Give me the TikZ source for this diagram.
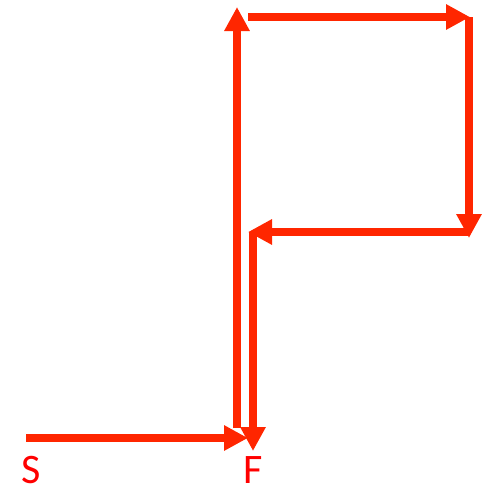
\documentclass[tikz,border=0pt]{standalone}
\usepackage{fontspec}
\setmainfont{Carlito}
\usetikzlibrary{arrows.meta}
\definecolor{red}{RGB}{255,38,0}
\definecolor{labelred}{RGB}{255,0,0}

\begin{document}
\begin{tikzpicture}[
    x=1pt, y=-1pt,
    leg/.style={draw=red, line width=7.5pt, -{Triangle[length=24pt, width=24pt]}},
    label/.style={text=labelred, inner sep=0pt, anchor=base, font=\fontsize{42}{46}\selectfont}
]
    \useasboundingbox (0,0) rectangle (490,488);
    % --- start and finish ---
    \node[label] (S) at (31,483) {S};
    \node[label] (F) at (253,483) {F};
    % --- corners of the route ---
    \coordinate (s0) at (26,438);
    \coordinate (s1) at (248,438);
    \coordinate (u0) at (237,428);
    \coordinate (u1) at (237,7);
    \coordinate (r0) at (248,17);
    \coordinate (r1) at (470,17);
    \coordinate (d0) at (469,17);
    \coordinate (d1) at (469,238);
    \coordinate (l0) at (469,232);
    \coordinate (l1) at (248,232);
    \coordinate (b0) at (253,232);
    \coordinate (b1) at (253,451);

    \draw[leg] (s0) -- (s1);
    \draw[leg] (u0) -- (u1);
    \draw[leg] (r0) -- (r1);
    \draw[leg] (d0) -- (d1);
    \draw[leg] (l0) -- (l1);
    \draw[leg] (b0) -- (b1);
\end{tikzpicture}
\end{document}
